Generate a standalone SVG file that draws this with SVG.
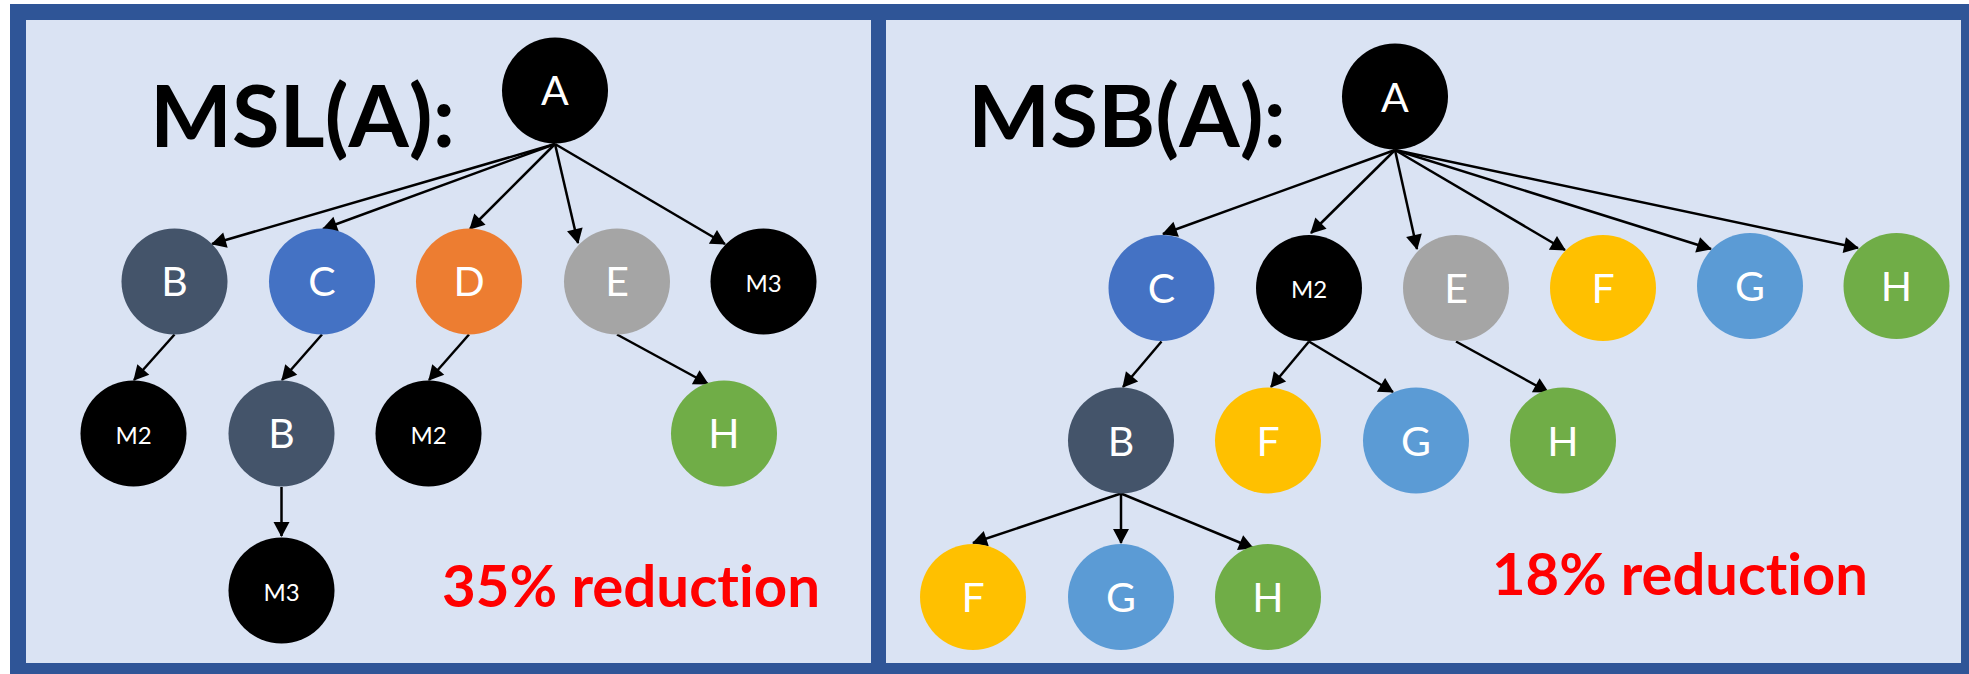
<svg xmlns="http://www.w3.org/2000/svg" width="1969" height="674" viewBox="0 0 1969 674">
  <defs>
    <marker id="arrow" markerUnits="userSpaceOnUse" markerWidth="16" markerHeight="16" refX="14" refY="8" orient="auto" overflow="visible">
      <path d="M0,0 L15,8 L0,16 z" fill="#000"/>
    </marker>
    <style>
      .frame { fill: #2F5597; }
      .panel { fill: #DAE3F3; }
      .edge { fill: none; stroke: #000; stroke-width: 2.5; marker-end: url(#arrow); }
      .lbl { font-family: Lato, "Open Sans", "Liberation Sans", sans-serif; fill: #fff; text-anchor: middle; font-size: 41px; }
      .sm { font-size: 24px; }
      .title { font-family: Lato, "Liberation Sans", sans-serif; font-weight: bold; font-size: 86px; fill: #000; font-variant-ligatures: none; }
      .note { font-family: Lato, "Liberation Sans", sans-serif; font-weight: bold; font-size: 58px; fill: #FF0000; font-variant-ligatures: none; }
      .black { fill: #000; }
      .slate { fill: #44546A; }
      .blue { fill: #4472C4; }
      .orange { fill: #ED7D31; }
      .gray { fill: #A5A5A5; }
      .gold { fill: #FFC000; }
      .sky { fill: #5B9BD5; }
      .green { fill: #70AD47; }
    </style>
  </defs>

  <!-- frame and the two panels -->
  <rect class="frame" x="10" y="4" width="1959" height="670"/>
  <rect class="panel" x="26" y="20" width="845" height="643"/>
  <rect class="panel" x="886" y="20" width="1075" height="643"/>

  <!-- headings and notes -->
  <text class="title" x="150" y="147" textLength="305" lengthAdjust="spacingAndGlyphs">MSL(A):</text>
  <text class="title" x="968" y="147" textLength="318" lengthAdjust="spacingAndGlyphs">MSB(A):</text>
  <text class="note" x="442" y="607" textLength="378" lengthAdjust="spacingAndGlyphs">35% reduction</text>
  <text class="note" x="1492" y="595" textLength="376" lengthAdjust="spacingAndGlyphs">18% reduction</text>

  <!-- connectors -->
  <g id="connectors">
    <!-- MSL tree -->
    <path class="edge" d="M555,144 L212,244"/>
    <path class="edge" d="M555,144 L323,229"/>
    <path class="edge" d="M555,144 L470,229"/>
    <path class="edge" d="M555,144 L578,243"/>
    <path class="edge" d="M555,144 L725,244"/>
    <path class="edge" d="M174.5,334.5 L134,380"/>
    <path class="edge" d="M322,334.5 L282,380"/>
    <path class="edge" d="M469,334.5 L429,380"/>
    <path class="edge" d="M617,334.5 L708,384"/>
    <path class="edge" d="M281.5,487 L281.5,536"/>
    <!-- MSB tree -->
    <path class="edge" d="M1395,150 L1163,234"/>
    <path class="edge" d="M1395,150 L1311,233"/>
    <path class="edge" d="M1395,150 L1417,249"/>
    <path class="edge" d="M1395,150 L1565,250"/>
    <path class="edge" d="M1395,150 L1711,249"/>
    <path class="edge" d="M1395,150 L1858,248"/>
    <path class="edge" d="M1161.5,341.5 L1123,387"/>
    <path class="edge" d="M1309,341.5 L1271,387"/>
    <path class="edge" d="M1309,341.5 L1393,392"/>
    <path class="edge" d="M1456,341.5 L1548,392"/>
    <path class="edge" d="M1121,493.5 L973,543"/>
    <path class="edge" d="M1121,493.5 L1121,543"/>
    <path class="edge" d="M1121,493.5 L1253,548"/>
  </g>

  <!-- MSL nodes -->
  <g id="msl-A"><circle class="black" cx="555" cy="90.5" r="53"/><text class="lbl" x="555" y="105">A</text></g>
  <g id="msl-B"><circle class="slate" cx="174.5" cy="281.5" r="53"/><text class="lbl" x="174.5" y="296">B</text></g>
  <g id="msl-C"><circle class="blue" cx="322" cy="281.5" r="53"/><text class="lbl" x="322" y="296">C</text></g>
  <g id="msl-D"><circle class="orange" cx="469" cy="281.5" r="53"/><text class="lbl" x="469" y="296">D</text></g>
  <g id="msl-E"><circle class="gray" cx="617" cy="281.5" r="53"/><text class="lbl" x="617" y="296">E</text></g>
  <g id="msl-M3"><circle class="black" cx="763.5" cy="281.5" r="53"/><text class="lbl sm" x="763.5" y="291.5">M3</text></g>
  <g id="msl-B-M2"><circle class="black" cx="133.5" cy="433.5" r="53"/><text class="lbl sm" x="133.5" y="443.5">M2</text></g>
  <g id="msl-C-B"><circle class="slate" cx="281.5" cy="433.5" r="53"/><text class="lbl" x="281.5" y="448">B</text></g>
  <g id="msl-D-M2"><circle class="black" cx="428.5" cy="433.5" r="53"/><text class="lbl sm" x="428.5" y="443.5">M2</text></g>
  <g id="msl-E-H"><circle class="green" cx="724" cy="433.5" r="53"/><text class="lbl" x="724" y="448">H</text></g>
  <g id="msl-B-M3"><circle class="black" cx="281.5" cy="590.5" r="53"/><text class="lbl sm" x="281.5" y="600.5">M3</text></g>

  <!-- MSB nodes -->
  <g id="msb-A"><circle class="black" cx="1395" cy="96.5" r="53"/><text class="lbl" x="1395" y="111.5">A</text></g>
  <g id="msb-C"><circle class="blue" cx="1161.5" cy="288" r="53"/><text class="lbl" x="1161.5" y="303">C</text></g>
  <g id="msb-M2"><circle class="black" cx="1309" cy="288" r="53"/><text class="lbl sm" x="1309" y="298">M2</text></g>
  <g id="msb-E"><circle class="gray" cx="1456" cy="288" r="53"/><text class="lbl" x="1456" y="303">E</text></g>
  <g id="msb-F"><circle class="gold" cx="1603" cy="288" r="53"/><text class="lbl" x="1603" y="303">F</text></g>
  <g id="msb-G"><circle class="sky" cx="1750" cy="286" r="53"/><text class="lbl" x="1750" y="301">G</text></g>
  <g id="msb-H"><circle class="green" cx="1896.5" cy="286" r="53"/><text class="lbl" x="1896.5" y="301">H</text></g>
  <g id="msb-C-B"><circle class="slate" cx="1121" cy="440.5" r="53"/><text class="lbl" x="1121" y="455.5">B</text></g>
  <g id="msb-M2-F"><circle class="gold" cx="1268" cy="440.5" r="53"/><text class="lbl" x="1268" y="455.5">F</text></g>
  <g id="msb-M2-G"><circle class="sky" cx="1416" cy="440.5" r="53"/><text class="lbl" x="1416" y="455.5">G</text></g>
  <g id="msb-E-H"><circle class="green" cx="1563" cy="440.5" r="53"/><text class="lbl" x="1563" y="455.5">H</text></g>
  <g id="msb-B-F"><circle class="gold" cx="973" cy="597" r="53"/><text class="lbl" x="973" y="612">F</text></g>
  <g id="msb-B-G"><circle class="sky" cx="1121" cy="597" r="53"/><text class="lbl" x="1121" y="612">G</text></g>
  <g id="msb-B-H"><circle class="green" cx="1268" cy="597" r="53"/><text class="lbl" x="1268" y="612">H</text></g>
</svg>
